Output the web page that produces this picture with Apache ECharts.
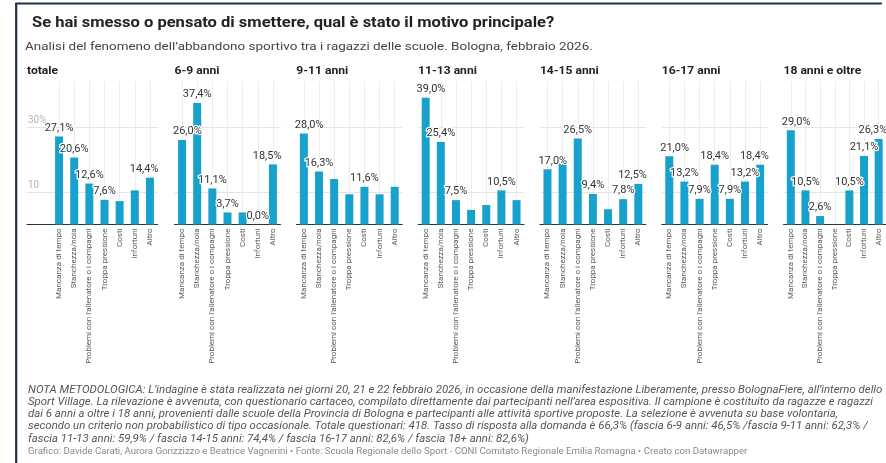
<!DOCTYPE html>
<html>
<head>
<meta charset="utf-8">
<script src="https://cdn.jsdelivr.net/npm/echarts@6/dist/echarts.min.js"></script>
<style>
  html, body { margin: 0; padding: 0; background: #ffffff; }
  #chart { width: 886px; height: 463px; }
</style>
</head>
<body>
<div id="chart"></div>
<script>
// Motivi di abbandono sportivo, per fascia d'età (valori in %)
const categories = [
  'Mancanza di tempo',
  'Stanchezza/noia',
  "Problemi con l'allenatore o i compagni",
  'Troppa pressione',
  'Costi',
  'Infortuni',
  'Altro'
];

const panelTitles = ['totale', '6-9 anni', '9-11 anni', '11-13 anni', '14-15 anni', '16-17 anni', '18 anni e oltre'];

const totale     = [27.1, 20.6, 12.6, 7.6, 7.2, 10.5, 14.4];
const anni6_9    = [26.0, 37.4, 11.1, 3.7, 3.7, 0.0, 18.5];
const anni9_11   = [28.0, 16.3, 14.0, 9.3, 11.6, 9.3, 11.6];
const anni11_13  = [39.0, 25.4, 7.5, 4.5, 6.0, 10.5, 7.5];
const anni14_15  = [17.0, 18.8, 26.5, 9.4, 4.7, 7.8, 12.5];
const anni16_17  = [21.0, 13.2, 7.9, 18.4, 7.9, 13.2, 18.4];
const anni18plus = [29.0, 10.5, 2.6, 0.0, 10.5, 21.1, 26.3];

const panelValues = [totale, anni6_9, anni9_11, anni11_13, anni14_15, anni16_17, anni18plus];

// indici delle barre con etichetta del valore
const labelledBars = [
  [0, 1, 2, 3, 6],
  [0, 1, 2, 3, 5, 6],
  [0, 1, 4],
  [0, 1, 2, 5],
  [0, 2, 3, 5, 6],
  [0, 1, 2, 3, 4, 5, 6],
  [0, 1, 2, 4, 5, 6]
];

const yGridValues = [10, 30];
const yGridLabels = ['10', '30%'];

const noteLines = [
  'NOTA METODOLOGICA: L\u2019indagine è stata realizzata nei giorni 20, 21 e 22 febbraio 2026, in occasione della manifestazione Liberamente, presso BolognaFiere, all\u2019interno dello',
  'Sport Village. La rilevazione è avvenuta, con questionario cartaceo, compilato direttamente dai partecipanti nell\u2019area espositiva. Il campione è costituito da ragazze e ragazzi',
  'dai 6 anni a oltre i 18 anni, provenienti dalle scuole della Provincia di Bologna e partecipanti alle attività sportive proposte. La selezione è avvenuta su base volontaria,',
  'secondo un criterio non probabilistico di tipo occasionale. Totale questionari: 418. Tasso di risposta alla domanda è 66,3% (fascia 6-9 anni: 46,5% /fascia 9-11 anni: 62,3% /',
  'fascia 11-13 anni: 59,9% / fascia 14-15 anni: 74,4% / fascia 16-17 anni: 82,6% / fascia 18+ anni: 82,6%)'
];
const creditLine = 'Grafico: Davide Carati, Aurora Gorizzizzo e Beatrice Vagnerini \u2022 Fonte: Scuola Regionale dello Sport - CONI Comitato Regionale Emilia Romagna \u2022 Creato con Datawrapper';

const titleText = 'Se hai smesso o pensato di smettere, qual è stato il motivo principale?';
const subtitleText = 'Analisi del fenomeno dell\u2019abbandono sportivo tra i ragazzi delle scuole. Bologna, febbraio 2026.';

// ---- layout ----
const FONT = 'Roboto, "Noto Sans", sans-serif';
const BAR_COLOR = '#18a1cd';
const GRID_TOP = 81.5;
const GRID_H = 143;
const PANEL_W = 106;
const FIRST_AXIS_LEFT = 27;     // il primo pannello ospita anche le etichette dell'asse y
const FIRST_BARS_LEFT = 51.5;
const SECOND_LEFT = 174.5;
const PITCH = 121.8;
const Y_MAX = 44;
const TEXT_STRETCH = 1.14;      // testo orizzontale leggermente allargato

const panelLeft = i => (i === 0 ? FIRST_BARS_LEFT : SECOND_LEFT + (i - 1) * PITCH);
const band = PANEL_W / categories.length;

const fmt = v => v.toFixed(1).replace('.', ',') + '%';

const grids = [];
const xAxes = [];
const yAxes = [];
const series = [];

const gridLineStyle = { color: '#e4e4e4', width: 1, type: 'solid' };

panelValues.forEach((vals, i) => {
  grids.push({ left: panelLeft(i), top: GRID_TOP, width: PANEL_W, height: GRID_H, containLabel: false });
  xAxes.push({
    type: 'category',
    gridIndex: i,
    data: categories,
    boundaryGap: true,
    axisTick: { show: false },
    axisLine: { show: true, lineStyle: { color: '#333333', width: 1 } },
    splitLine: { show: true, alignWithLabel: true, interval: 0, lineStyle: { color: '#ececec', width: 1 } },
    axisLabel: {
      interval: 0,
      rotate: 90,
      margin: 4,
      fontSize: 8,
      color: '#5a5a5a',
      fontFamily: FONT
    }
  });
  yAxes.push({
    type: 'value',
    gridIndex: i,
    min: 0,
    max: Y_MAX,
    show: false,
    splitLine: { show: false }
  });

  const shown = labelledBars[i];
  series.push({
    type: 'bar',
    xAxisIndex: i,
    yAxisIndex: i,
    barWidth: 8,
    z: 2,
    itemStyle: { color: BAR_COLOR },
    label: {
      show: false,
      position: 'top',
      distance: 3,
      fontSize: 11,
      fontFamily: FONT,
      color: '#333333',
      textBorderColor: '#ffffff',
      textBorderWidth: 2.5,
      formatter: p => fmt(p.value)
    },
    data: vals.map((v, j) => {
      const lab = { show: shown.includes(j) };
      // le etichette ai bordi restano dentro il pannello
      if (j === 0 && i > 0) { lab.align = 'left'; lab.offset = [-(band / 2) - 1.5, 0]; }
      if (j === vals.length - 1) { lab.align = 'right'; lab.offset = [band / 2 + 1, 0]; }
      return { value: v, label: lab };
    }),
    markLine: i === 0 ? undefined : {
      silent: true,
      z: 1,
      symbol: ['none', 'none'],
      label: { show: false },
      lineStyle: gridLineStyle,
      emphasis: { disabled: true },
      data: yGridValues.map(v => ({ yAxis: v }))
    }
  });
});

// sfondo del primo pannello: griglia orizzontale, asse base ed etichette dell'asse y
const bgIndex = panelValues.length;
grids.push({ left: FIRST_AXIS_LEFT, top: GRID_TOP, width: FIRST_BARS_LEFT + PANEL_W - FIRST_AXIS_LEFT, height: GRID_H, containLabel: false });
xAxes.push({
  type: 'value',
  gridIndex: bgIndex,
  min: 0,
  max: 1,
  axisLine: { show: true, onZero: false, lineStyle: { color: '#333333', width: 1 } },
  axisTick: { show: false },
  axisLabel: { show: false },
  splitLine: { show: false }
});
yAxes.push({
  type: 'value',
  gridIndex: bgIndex,
  min: 0,
  max: Y_MAX,
  interval: 10,
  axisLine: { show: false },
  axisTick: { show: false },
  splitLine: { show: false },
  axisLabel: {
    inside: true,
    margin: 1,
    showMaxLabel: false,
    verticalAlign: 'bottom',
    padding: [0, 0, 2, 0],
    fontSize: 10,
    fontFamily: FONT,
    color: '#b5b5b5',
    formatter: v => {
      const k = yGridValues.indexOf(v);
      return k >= 0 ? yGridLabels[k] : '';
    }
  }
});
series.push({
  type: 'line',
  xAxisIndex: bgIndex,
  yAxisIndex: bgIndex,
  silent: true,
  symbol: 'none',
  z: 0,
  lineStyle: { opacity: 0, width: 0 },
  data: [[0, 0], [1, 0]],
  markLine: {
    silent: true,
    z: 1,
    symbol: ['none', 'none'],
    label: { show: false },
    lineStyle: gridLineStyle,
    emphasis: { disabled: true },
    data: yGridValues.map(v => ({ yAxis: v }))
  }
});

// testi e cornice
const textEl = (x, y, text, style, stretch) => ({
  type: 'text', silent: true, x: x, y: y, scaleX: stretch, scaleY: 1,
  style: Object.assign({ text: text, fontFamily: FONT, verticalAlign: 'middle' }, style)
});

const graphics = [
  { type: 'line', silent: true, shape: { x1: 16, y1: 3.5, x2: 881, y2: 3.5 }, style: { stroke: '#1f3049', lineWidth: 2.2, lineCap: 'round' } },
  { type: 'line', silent: true, shape: { x1: 16.2, y1: 3.5, x2: 16.2, y2: 463 }, style: { stroke: '#1f3049', lineWidth: 2.2 } },
  textEl(32, 23, titleText, { fontSize: 14.5, fontWeight: 'bold', fill: '#222222' }, 1.0 * TEXT_STRETCH),
  textEl(25, 47, subtitleText, { fontSize: 11.8, fill: '#444444' }, TEXT_STRETCH)
];
panelTitles.forEach((t, i) => {
  graphics.push(textEl(i === 0 ? FIRST_AXIS_LEFT : panelLeft(i), 71.5, t,
    { fontSize: 11, fontWeight: 'bold', fill: '#222222' }, 1.1));
});
noteLines.forEach((t, k) => {
  graphics.push(textEl(28, 390 + k * 12.3, t,
    { fontSize: 10, fontStyle: 'italic', fill: '#555555' }, TEXT_STRETCH));
});
graphics.push(textEl(28, 452, creditLine, { fontSize: 9, fill: '#888888' }, 1.07));

const chart = echarts.init(document.getElementById('chart'), null, { renderer: 'canvas' });
chart.setOption({
  animation: false,
  backgroundColor: '#ffffff',
  grid: grids,
  xAxis: xAxes,
  yAxis: yAxes,
  series: series,
  graphic: graphics
});
</script>
</body>
</html>
